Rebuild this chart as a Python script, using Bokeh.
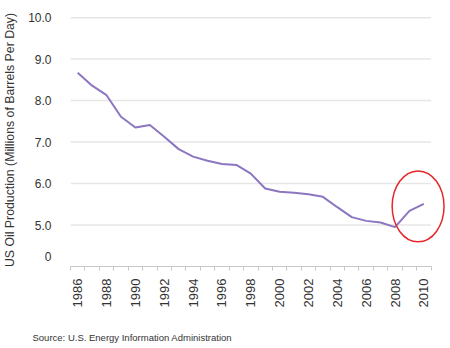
from bokeh.plotting import figure
from bokeh.models import FixedTicker, Range1d, LinearAxis, Title
from bokeh.embed import file_html
from bokeh.resources import INLINE
import math

years = list(range(1986, 2011))
production = [8.67, 8.36, 8.13, 7.61, 7.35, 7.41, 7.13, 6.83, 6.65, 6.55, 6.47, 6.45,
              6.24, 5.88, 5.80, 5.78, 5.74, 5.68, 5.43, 5.19, 5.10, 5.06, 4.95, 5.34, 5.51]
x_tick_years = list(range(1986, 2011, 2))
y_tick_values = [4.25, 5, 6, 7, 8, 9, 10]
y_tick_labels = ["0", "5.0", "6.0", "7.0", "8.0", "9.0", "10.0"]
grid_values = [5, 6, 7, 8, 9, 10]
highlight_year = 2009.6
highlight_value = 5.45
source_text = "Source: U.S. Energy Information Administration"

FONT = "Liberation Sans"
x_lo = years[0] - 0.5
x_hi = years[-1] + 0.5

p = figure(width=450, height=348, output_backend="svg", toolbar_location=None,
           x_range=Range1d(x_lo, x_hi + 1.0), y_range=Range1d(4.0, 10.1))
p.min_border_left = 62
p.min_border_right = 5
p.min_border_top = 13
p.min_border_bottom = 82
p.outline_line_color = None
p.background_fill_color = "white"
p.border_fill_color = "white"

# horizontal grid lines limited to the data span
p.ygrid.visible = False
p.segment(x0=[x_lo] * len(grid_values), x1=[x_hi] * len(grid_values),
          y0=grid_values, y1=grid_values, line_color="#E6E6E6", line_width=1.5)

p.line(years, production, line_color="#8C76C0", line_width=2)
p.ellipse(x=[highlight_year], y=[highlight_value], width=3.6, height=1.71,
          fill_color=None, line_color="#E8262A", line_width=1.5)

# x axis
p.xgrid.visible = False
xa = p.xaxis[0]
xa.bounds = (x_lo, x_hi)
xa.ticker = FixedTicker(ticks=x_tick_years,
                        minor_ticks=[y - 0.5 for y in years] + [x_hi])
xa.major_tick_out = 0
xa.major_tick_in = 0
xa.minor_tick_out = 4
xa.minor_tick_in = 0
xa.minor_tick_line_color = "#C8C8C8"
xa.axis_line_color = "#C8C8C8"
xa.major_label_orientation = math.pi / 2
xa.major_label_standoff = 8
xa.major_label_text_font = FONT
xa.major_label_text_font_size = "13px"
xa.major_label_text_color = "#333333"

# spacer axis between the tick labels and the source note (invisible tick)
spacer = LinearAxis(ticker=FixedTicker(ticks=[x_lo]), axis_line_color=None,
                    major_tick_line_color=None, minor_tick_line_color=None,
                    major_tick_out=18, major_tick_in=0, minor_tick_out=0,
                    major_label_overrides={x_lo: ""}, major_label_standoff=0)
p.add_layout(spacer, "below")

src = Title(text=source_text, align="left", offset=-38, standoff=2,
            text_font=FONT, text_font_size="9.5px", text_font_style="normal",
            text_color="#333333")
p.add_layout(src, "below")

# y axis
ya = p.yaxis[0]
ya.ticker = FixedTicker(ticks=y_tick_values)
ya.major_label_overrides = {v: l for v, l in zip(y_tick_values, y_tick_labels)}
ya.axis_line_color = None
ya.major_tick_line_color = None
ya.minor_tick_line_color = None
ya.major_label_standoff = 13
ya.major_label_text_font = FONT
ya.major_label_text_font_size = "12px"
ya.major_label_text_color = "#333333"
ya.axis_label = "US Oil Production (Millions of Barrels Per Day)"
ya.axis_label_text_font = FONT
ya.axis_label_text_font_size = "12.3px"
ya.axis_label_text_font_style = "normal"
ya.axis_label_text_color = "#333333"
ya.axis_label_standoff = 8

open("out.html", "w").write(file_html(p, INLINE))
